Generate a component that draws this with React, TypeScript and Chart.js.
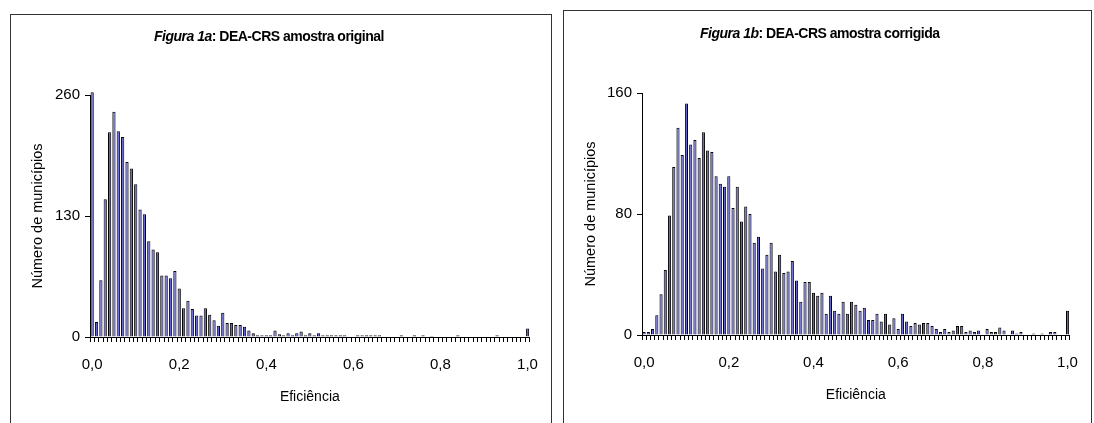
import React, { useEffect, useRef } from 'react';
import { Chart, registerables } from 'chart.js';

Chart.register(...registerables);

// Histogram bins: efficiency 0,00 ... 1,00 (step 0,01)
const CATEGORIES: number[] = Array.from({ length: 101 }, (_, i) => i / 100);
const X_TICK_VALUES: number[] = [0, 0.2, 0.4, 0.6, 0.8, 1.0];

// Figura 1a: DEA-CRS amostra original (número de municípios por classe)
const ORIGINAL: number[] = [
  263, 16, 61, 148, 220, 242, 221, 215, 188, 181,
  164, 137, 132, 103, 94, 91, 66, 66, 63, 71,
  52, 31, 39, 30, 23, 23, 31, 24, 18, 12,
  26, 15, 15, 13, 13, 11, 7, 4, 2, 2,
  2, 2, 7, 3, 2, 4, 2, 4, 6, 2,
  4, 2, 4, 2, 2, 2, 2, 2, 2, 0,
  0, 2, 2, 2, 2, 2, 2, 0, 0, 0,
  0, 2, 0, 0, 2, 0, 2, 0, 1, 0,
  0, 0, 0, 0, 2, 0, 0, 0, 0, 0,
  0, 0, 0, 2, 0, 0, 0, 0, 0, 0,
  9,
];

// Figura 1b: DEA-CRS amostra corrigida
const CORRIGIDA: number[] = [
  2, 2, 4, 13, 27, 43, 79, 111, 137, 119,
  153, 126, 129, 117, 134, 122, 121, 105, 100, 98,
  105, 84, 98, 75, 85, 80, 61, 65, 44, 53,
  61, 42, 53, 41, 42, 49, 36, 22, 35, 35,
  28, 26, 28, 14, 26, 16, 14, 22, 14, 22,
  20, 16, 18, 10, 10, 14, 9, 14, 7, 11,
  4, 14, 9, 6, 8, 7, 8, 8, 6, 4,
  2, 4, 2, 3, 6, 6, 2, 3, 2, 3,
  0, 4, 2, 2, 5, 3, 0, 3, 1, 2,
  0, 0, 1, 0, 1, 0, 2, 2, 0, 0,
  16,
];

const Y_TICKS_A: number[] = [0, 130, 260];
const Y_TICKS_B: number[] = [0, 80, 160];

const FONT = '"Liberation Sans", Arial, Helvetica, sans-serif';
const BAR_FILL = '#6464cc';

type Area = { left: number; top: number; right: number; bottom: number };

type Props = {
  values: number[];
  yTicks: number[];
  width: number;
  height: number;
  area: Area;
  xTitlePad: number;
  yTitlePad: number;
};

function HistChart({ values, yTicks, width, height, area, xTitlePad, yTitlePad }: Props) {
  const ref = useRef<HTMLCanvasElement>(null);
  useEffect(() => {
    if (!ref.current) return;
    const yMax = yTicks[yTicks.length - 1];
    const step = yTicks[1] - yTicks[0];
    const chart = new Chart(ref.current, {
      type: 'bar',
      data: {
        labels: CATEGORIES,
        datasets: [
          {
            data: values,
            backgroundColor: BAR_FILL,
            borderColor: '#000',
            borderWidth: 1,
            barPercentage: 0.74,
            categoryPercentage: 1,
            clip: false,
          } as any,
        ],
      },
      options: {
        animation: false,
        responsive: false,
        maintainAspectRatio: false,
        devicePixelRatio: 1,
        layout: { padding: { left: 0, top: area.top, right: width - area.right, bottom: 0 } },
        plugins: {
          legend: { display: false },
          tooltip: { enabled: false },
          title: { display: false },
        },
        scales: {
          x: {
            type: 'category',
            offset: true,
            grid: {
              display: true,
              drawOnChartArea: false,
              drawTicks: true,
              tickLength: 5,
              color: '#000',
              offset: true,
            },
            border: { display: true, color: '#000', width: 1 },
            ticks: {
              autoSkip: false,
              maxRotation: 0,
              minRotation: 0,
              padding: 14,
              color: '#000',
              font: { family: FONT, size: 15 },
              callback: (_v: any, i: number) => {
                const c = CATEGORIES[i];
                const hit = X_TICK_VALUES.find((t) => Math.abs(t - c) < 1e-9);
                return hit === undefined ? '' : hit.toFixed(1).replace('.', ',');
              },
            },
            title: {
              display: true,
              text: 'Eficiência',
              color: '#000',
              font: { family: FONT, size: 14 },
              padding: { top: 0, bottom: xTitlePad },
            },
            afterFit: (s: any) => {
              s.height = height - area.bottom;
            },
          },
          y: {
            min: 0,
            max: yMax,
            ticks: {
              stepSize: step,
              padding: 5,
              color: '#000',
              font: { family: FONT, size: 15 },
            },
            grid: { drawOnChartArea: false, drawTicks: true, tickLength: 5, color: '#000' },
            border: { display: true, color: '#000', width: 1 },
            title: {
              display: true,
              text: 'Número de municípios',
              color: '#000',
              font: { family: FONT, size: 14.5 },
              padding: { top: yTitlePad, bottom: 0 },
            },
            afterFit: (s: any) => {
              s.width = area.left;
            },
          },
        },
      } as any,
    });
    return () => chart.destroy();
  }, []);
  return (
    <canvas
      ref={ref}
      width={width}
      height={height}
      style={{ display: 'block', width, height }}
    />
  );
}

const titleStyle: React.CSSProperties = {
  position: 'absolute',
  font: `bold 14px ${FONT}`,
  lineHeight: '14px',
  whiteSpace: 'nowrap',
  letterSpacing: '-0.5px',
  color: '#000',
};

export default function App() {
  return (
    <div
      style={{
        position: 'fixed',
        left: 0,
        top: 0,
        width: 1094,
        height: 423,
        overflow: 'hidden',
        fontFamily: FONT,
        background: '#fff',
      }}
    >
      {/* Left panel */}
      <div
        style={{
          position: 'absolute',
          left: 10,
          top: 14,
          width: 542,
          height: 440,
          border: '1px solid #333',
          boxSizing: 'border-box',
        }}
      />
      <div style={{ position: 'absolute', left: 10, top: 14 }}>
        <HistChart
          values={ORIGINAL}
          yTicks={Y_TICKS_A}
          width={542}
          height={409}
          area={{ left: 80, top: 81, right: 528, bottom: 323 }}
          xTitlePad={17}
          yTitlePad={19}
        />
      </div>
      <div style={{ ...titleStyle, left: 154, top: 29 }}>
        <i>Figura 1a</i>: DEA-CRS amostra original
      </div>

      {/* Right panel */}
      <div
        style={{
          position: 'absolute',
          left: 563,
          top: 10,
          width: 529,
          height: 440,
          border: '1px solid #333',
          boxSizing: 'border-box',
        }}
      />
      <div style={{ position: 'absolute', left: 563, top: 10 }}>
        <HistChart
          values={CORRIGIDA}
          yTicks={Y_TICKS_B}
          width={529}
          height={413}
          area={{ left: 79, top: 83, right: 522, bottom: 325 }}
          xTitlePad={19}
          yTitlePad={19}
        />
      </div>
      <div style={{ ...titleStyle, left: 700, top: 26 }}>
        <i>Figura 1b</i>: DEA-CRS amostra corrigida
      </div>
    </div>
  );
}
